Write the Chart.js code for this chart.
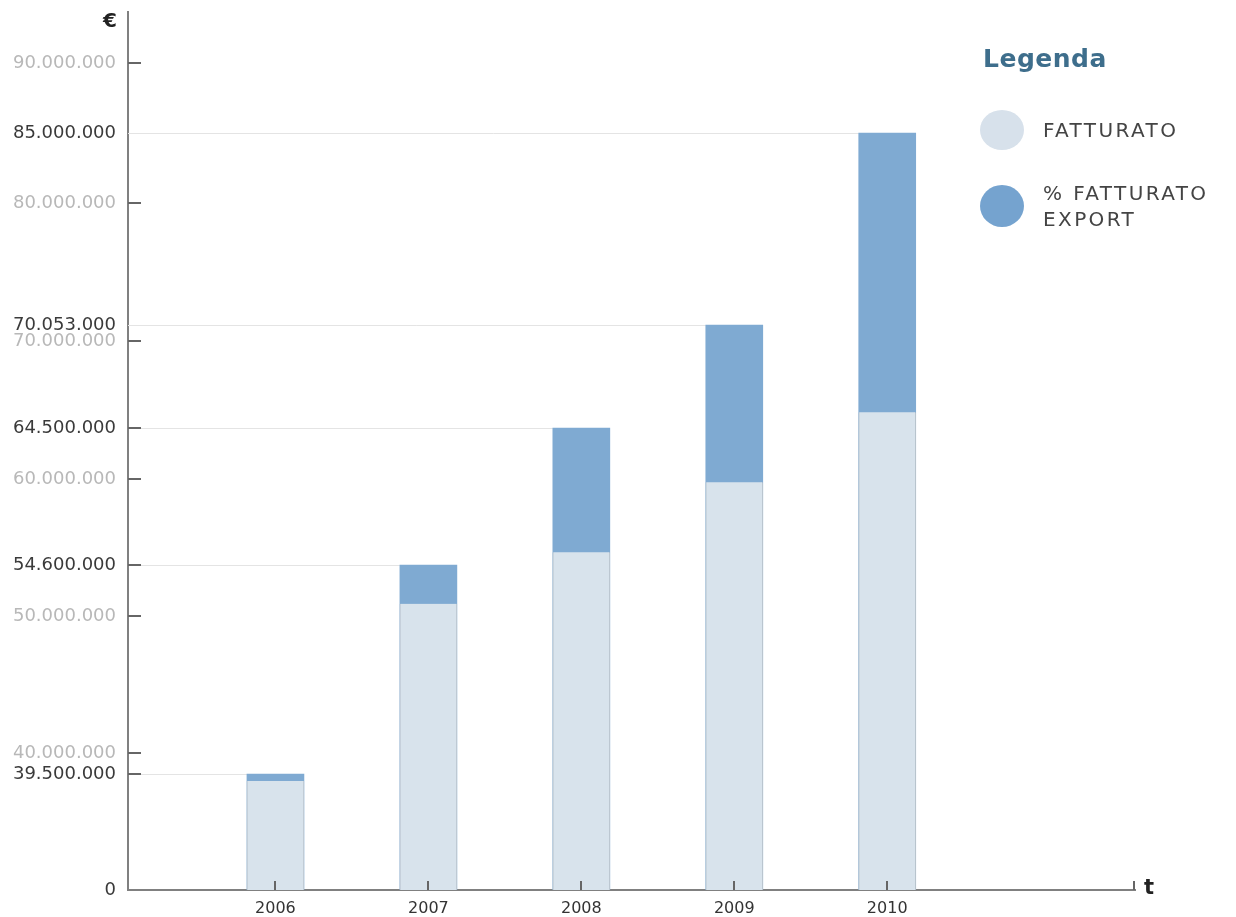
<!DOCTYPE html>
<html lang="it">
<head>
<meta charset="utf-8">
<title>Fatturato 2006-2010</title>
<script src="https://cdn.jsdelivr.net/npm/chart.js@4.4.1/dist/chart.umd.min.js"></script>
<style>
    body { margin: 0; background: #fff; }
    #wrap { position: relative; width: 1236px; height: 917px; font-family: 'DejaVu Sans', sans-serif; }
    #fatturatoChart { position: absolute; left: 0; top: 0; }
    .unit { position: absolute; font-weight: bold; color: #222; }
    .euro { left: 103px; top: 8px; font-size: 20px; }
    .tempo { left: 1144px; top: 875px; font-size: 21px; }
    #legenda { position: absolute; left: 980px; top: 44px; color: #444; }
    #legenda h3 { margin: 0 0 0 3px; font-size: 25px; letter-spacing: 0.5px; color: #3e6e8c; line-height: 30px; }
    .voce { position: absolute; left: 0; width: 260px; }
    .voce .pallino { position: absolute; left: 0; width: 44px; height: 40px; border-radius: 50%; }
    .voce span { position: absolute; left: 63px; font-size: 20px; letter-spacing: 2.4px; line-height: 26px; white-space: nowrap; }
</style>
</head>
<body>
<div id="wrap">
    <canvas id="fatturatoChart" width="1236" height="917"></canvas>
    <div class="unit euro">€</div>
    <div class="unit tempo">t</div>
    <div id="legenda">
        <h3>Legenda</h3>
        <div class="voce" style="top: 66px;">
            <div class="pallino" style="background: #d7e1eb;"></div>
            <span style="top: 7px;">FATTURATO</span>
        </div>
        <div class="voce" style="top: 141px;">
            <div class="pallino" style="background: #75a3cf; height: 42px;"></div>
            <span style="top: -5px;">% FATTURATO<br>EXPORT</span>
        </div>
    </div>
</div>
<script>
// Fatturato 2006-2010 (light = fatturato, dark = quota export on top)
const anni = [2006, 2007, 2008, 2009, 2010];
const fatturato = [37100000, 51100000, 55400000, 59800000, 65500000];
const fatturatoTotale = [39500000, 54600000, 64500000, 70053000, 85000000];
const tickScala = [0, 40000000, 50000000, 60000000, 70000000, 80000000, 90000000];
const tickEvidenziati = [0, 39500000, 54600000, 64500000, 70053000, 85000000];

const tuttiTick = [...new Set([...tickScala, ...tickEvidenziati])].sort((a, b) => a - b);

function formatEuro(v) {
    return String(Math.round(v)).replace(/\B(?=(\d{3})+(?!\d))/g, '.');
}

// The original axis is not drawn to scale: every labelled value has its own height.
// This scale maps values piecewise onto those heights.
class BrokenScale extends Chart.LinearScale {
    _livello(value) {
        const { valori, livelli } = this.options.breaks;
        if (value <= valori[0]) return livelli[0];
        for (let i = 1; i < valori.length; i++) {
            if (value <= valori[i]) {
                const t = (value - valori[i - 1]) / (valori[i] - valori[i - 1]);
                return livelli[i - 1] + t * (livelli[i] - livelli[i - 1]);
            }
        }
        return livelli[livelli.length - 1];
    }
    getPixelForValue(value) {
        if (value === null || value === undefined) return NaN;
        const top = this._livello(this.max);
        return this.getPixelForDecimal(this._livello(value) / top);
    }
    getValueForPixel(pixel) {
        const { valori, livelli } = this.options.breaks;
        const lv = this.getDecimalForPixel(pixel) * this._livello(this.max);
        for (let i = 1; i < livelli.length; i++) {
            if (lv <= livelli[i]) {
                const t = (lv - livelli[i - 1]) / (livelli[i] - livelli[i - 1]);
                return valori[i - 1] + t * (valori[i] - valori[i - 1]);
            }
        }
        return this.max;
    }
}
BrokenScale.id = 'broken';
BrokenScale.defaults = Chart.LinearScale.defaults;
Chart.register(BrokenScale);

const guidePlugin = {
    id: 'guide',
    beforeDatasetsDraw(chart) {
        const { ctx, chartArea, scales: { y } } = chart;
        const meta = chart.getDatasetMeta(1);
        ctx.save();
        ctx.strokeStyle = '#e4e4e4';
        ctx.lineWidth = 1;
        fatturatoTotale.forEach((v, i) => {
            const bar = meta.data[i];
            const py = Math.round(y.getPixelForValue(v)) + 0.5;
            ctx.beginPath();
            ctx.moveTo(chartArea.left, py);
            ctx.lineTo(bar.x - bar.width / 2, py);
            ctx.stroke();
        });
        ctx.restore();
    },
    afterDraw(chart) {
        const { ctx, chartArea, scales: { x, y } } = chart;
        const segnati = [39500000, 40000000, 50000000, 54600000, 60000000, 64500000, 70000000, 80000000, 90000000];
        ctx.save();
        ctx.strokeStyle = '#666';
        ctx.lineWidth = 2;
        segnati.forEach(v => {
            const py = Math.round(y.getPixelForValue(v));
            ctx.beginPath();
            ctx.moveTo(chartArea.left, py);
            ctx.lineTo(chartArea.left + 13, py);
            ctx.stroke();
        });
        [...anni.map(a => x.getPixelForValue(a)), chartArea.right - 1].forEach(px => {
            ctx.beginPath();
            ctx.moveTo(Math.round(px), chartArea.bottom);
            ctx.lineTo(Math.round(px), chartArea.bottom - 9);
            ctx.stroke();
        });
        ctx.restore();
    }
};

const ctx = document.getElementById('fatturatoChart').getContext('2d');
new Chart(ctx, {
    type: 'bar',
    data: {
        datasets: [
            {
                label: 'FATTURATO',
                data: anni.map((a, i) => ({ x: a, y: fatturato[i] })),
                backgroundColor: '#d8e3ec',
                borderColor: '#b7c2cc',
                borderWidth: { left: 1, right: 1, top: 0, bottom: 0 },
                grouped: false,
                barThickness: 57,
                order: 0
            },
            {
                label: '% FATTURATO EXPORT',
                data: anni.map((a, i) => ({ x: a, y: fatturatoTotale[i] })),
                backgroundColor: '#7faad2',
                borderWidth: 0,
                grouped: false,
                barThickness: 57,
                order: 1
            }
        ]
    },
    options: {
        responsive: false,
        animation: false,
        layout: { padding: { top: 12, right: 101, left: 0, bottom: 0 } },
        plugins: {
            legend: { display: false },
            tooltip: { enabled: false }
        },
        scales: {
            x: {
                type: 'linear',
                offset: false,
                min: 2005.036,
                max: 2011.62,
                grid: { display: false, drawTicks: false, offset: false },
                border: { display: true, color: '#808080', width: 2 },
                afterBuildTicks: scale => { scale.ticks = anni.map(v => ({ value: v })); },
                afterFit: scale => { scale.height = 27; scale.paddingLeft = 0; scale.paddingRight = 0; },
                ticks: {
                    padding: 9,
                    color: '#333',
                    font: { family: "'DejaVu Sans', sans-serif", size: 16 },
                    callback: v => String(v)
                }
            },
            y: {
                type: 'broken',
                min: 0,
                max: 93640000,
                breaks: {
                    valori: [0, 39500000, 40000000, 50000000, 54600000, 60000000, 64500000, 70000000, 70053000, 80000000, 85000000, 90000000, 93640000],
                    livelli: [0, 116, 137, 274, 325, 411, 462, 549, 565, 687, 757, 827, 878]
                },
                grid: { display: false, drawTicks: false },
                border: { display: true, color: '#808080', width: 2 },
                afterBuildTicks: scale => { scale.ticks = tuttiTick.map(v => ({ value: v })); },
                afterFit: scale => { scale.width = 128; scale.paddingTop = 0; scale.paddingBottom = 0; },
                ticks: {
                    autoSkip: false,
                    padding: 12,
                    color: c => tickEvidenziati.includes(c.tick.value) ? '#3a3a3a' : '#b8b8b8',
                    font: { family: "'DejaVu Sans', sans-serif", size: 18 },
                    callback: v => formatEuro(v)
                }
            }
        }
    },
    plugins: [guidePlugin]
});
</script>
</body>
</html>
